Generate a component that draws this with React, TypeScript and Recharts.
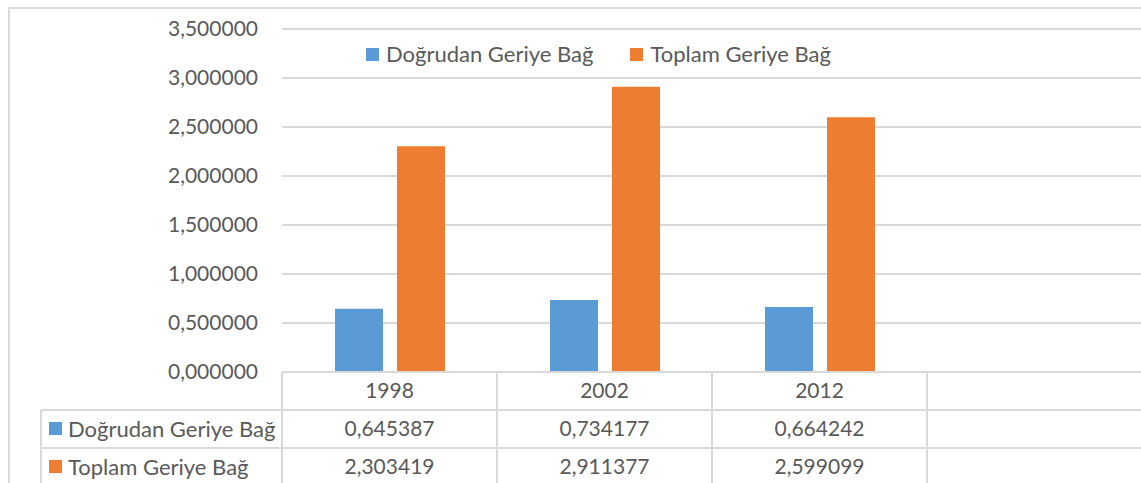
import { BarChart, Bar, XAxis, YAxis, CartesianGrid } from 'recharts';

const YEARS = ['1998', '2002', '2012', ''];
const DIRECT = [0.645387, 0.734177, 0.664242, null];
const TOTAL = [2.303419, 2.911377, 2.599099, null];
const Y_TICKS = [0, 0.5, 1, 1.5, 2, 2.5, 3, 3.5];

const SERIES = [
  { key: 'direct', name: 'Doğrudan Geriye Bağ', color: '#5B9BD5', values: DIRECT },
  { key: 'total', name: 'Toplam Geriye Bağ', color: '#ED7D31', values: TOTAL },
];

const data = YEARS.map((year, i) => ({ year, direct: DIRECT[i], total: TOTAL[i] }));

const FONT = 'Lato, "Open Sans", sans-serif';
const TEXT = '#595959';
const LINE = '#d9d9d9';
const CAT_W = 215;
const ROW_H = 38;

const fmt = (v: number | null) => (v == null ? '' : v.toFixed(6).replace('.', ','));

// x-axis tick doubles as the data table under the plot
function TableTick(props: any) {
  const { x, y, payload, index } = props;
  const left = x - CAT_W / 2;
  const right = x + CAT_W / 2;
  const rowTop = y + ROW_H;
  return (
    <g>
      {index === 0 && (
        <g>
          <line x1={left} y1={y} x2={left} y2={483} stroke={LINE} strokeWidth={2} />
          <line x1={41} y1={rowTop} x2={1160} y2={rowTop} stroke={LINE} strokeWidth={2} />
          <line x1={41} y1={rowTop + ROW_H} x2={1160} y2={rowTop + ROW_H} stroke={LINE} strokeWidth={2} />
          <line x1={41} y1={rowTop} x2={41} y2={483} stroke={LINE} strokeWidth={2} />
          {SERIES.map((s, r) => (
            <g key={s.key}>
              <rect x={49} y={rowTop + r * ROW_H + 12} width={13} height={13} fill={s.color} />
              <text x={68} y={rowTop + r * ROW_H + ROW_H / 2} dy="0.35em" fill={TEXT} fontSize={22} fontFamily={FONT}>
                {s.name}
              </text>
            </g>
          ))}
        </g>
      )}
      <line x1={right} y1={y} x2={right} y2={483} stroke={LINE} strokeWidth={2} />
      <text x={x} y={y + ROW_H / 2} dy="0.35em" textAnchor="middle" fill={TEXT} fontSize={21} fontFamily={FONT}>
        {payload.value}
      </text>
      {SERIES.map((s, r) => (
        <text key={s.key} x={x} y={rowTop + r * ROW_H + ROW_H / 2} dy="0.35em" textAnchor="middle" fill={TEXT} fontSize={21} fontFamily={FONT}>
          {fmt(s.values[index])}
        </text>
      ))}
    </g>
  );
}

function TopLegend() {
  return (
    <div style={{ position: 'absolute', left: 366, top: 40, display: 'flex', gap: 37, fontFamily: FONT, fontSize: 22, color: TEXT, lineHeight: '28px' }}>
      {SERIES.map(s => (
        <div key={s.key} style={{ display: 'flex', alignItems: 'center' }}>
          <span style={{ width: 13, height: 13, background: s.color, marginRight: 7, display: 'inline-block' }} />
          <span>{s.name}</span>
        </div>
      ))}
    </div>
  );
}

export default function App() {
  return (
    <div style={{ position: 'fixed', left: 0, top: 0, width: 1141, height: 483, overflow: 'hidden', background: '#fff' }}>
      <div style={{ position: 'absolute', left: 8, top: 7, width: 1200, height: 600, border: `2px solid ${LINE}`, boxSizing: 'border-box' }} />
      <div style={{ position: 'absolute', left: 0, top: 0 }}>
        <BarChart width={1160} height={483} data={data} margin={{ top: 29, right: 18, left: 0, bottom: 0 }} barSize={48} barGap={14}>
          <CartesianGrid vertical={false} stroke={LINE} strokeWidth={2} />
          <YAxis
            width={282}
            domain={[0, 3.5]}
            ticks={Y_TICKS}
            interval={0}
            axisLine={false}
            tickLine={false}
            tickSize={0}
            tickMargin={24}
            tickFormatter={(v: number) => fmt(v)}
            tick={{ fill: TEXT, fontSize: 21, fontFamily: FONT }}
          />
          <XAxis
            dataKey="year"
            height={111}
            interval={0}
            tickLine={false}
            tickSize={0}
            tickMargin={0}
            axisLine={{ stroke: LINE, strokeWidth: 2 }}
            tick={<TableTick />}
          />
          {SERIES.map(s => (
            <Bar key={s.key} dataKey={s.key} name={s.name} fill={s.color} isAnimationActive={false} />
          ))}
        </BarChart>
      </div>
      <TopLegend />
    </div>
  );
}
